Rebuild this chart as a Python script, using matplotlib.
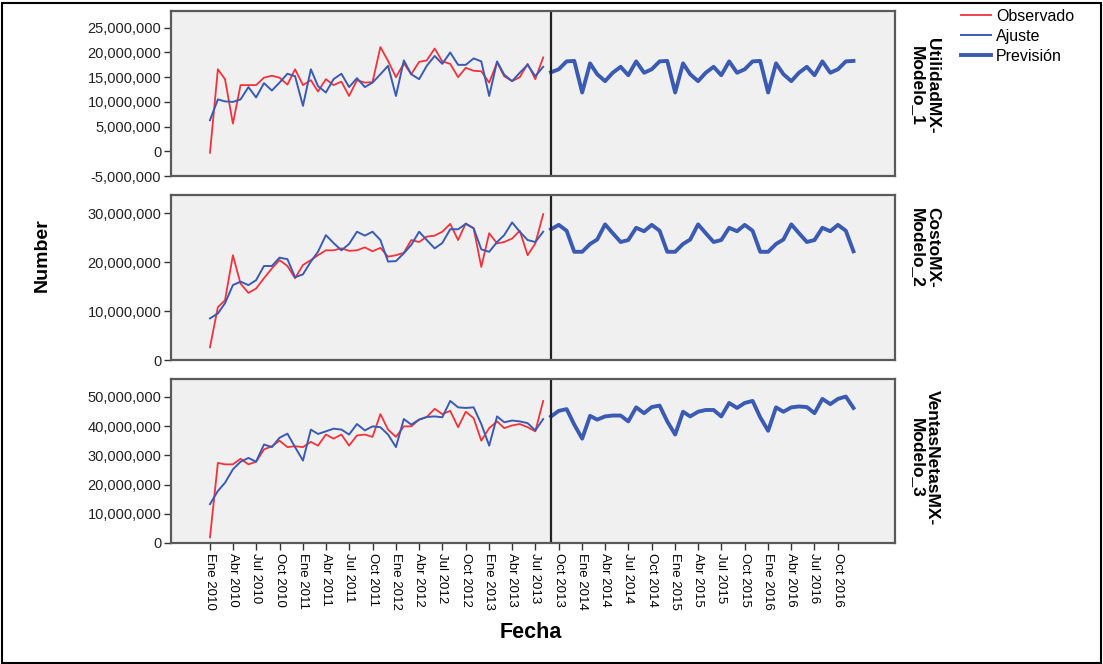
import numpy as np
import pandas as pd
import matplotlib
matplotlib.use("Agg")
import matplotlib.pyplot as plt
import matplotlib.dates as mdates
from matplotlib.ticker import FuncFormatter, FixedLocator
from matplotlib.lines import Line2D
from matplotlib.patches import Rectangle

plt.rcParams['font.family'] = ['Liberation Sans', 'DejaVu Sans']

# fechas (mensual)
fechas_obs = pd.date_range('2010-01-01', periods=44, freq='MS')   # Ene 2010 - Ago 2013
fechas_prev = pd.date_range('2013-09-01', periods=40, freq='MS')  # Sep 2013 - Dic 2016
inicio_prev = pd.Timestamp('2013-09-01')
fechas_ticks = pd.date_range('2010-01-01', '2016-10-01', freq='3MS')
meses_es = {1: 'Ene', 4: 'Abr', 7: 'Jul', 10: 'Oct'}

modelos = ['UtilidadMX-\nModelo_1', 'CostoMX-\nModelo_2', 'VentasNetasMX-\nModelo_3']

# valores en millones
utilidad_obs = [-0.3, 16.6, 14.6, 5.6, 13.4, 13.4, 13.4, 14.9, 15.3, 14.9, 13.5, 16.6, 13.4, 14.4, 12.1,
                14.6, 13.4, 14.1, 11.2, 14.4, 13.9, 14.0, 21.1, 18.3, 15.0, 17.8, 15.6, 18.1, 18.4, 20.8,
                18.2, 17.7, 15.0, 16.9, 16.3, 16.2, 13.9, 18.0, 15.2, 14.2, 15.0, 17.7, 14.6, 19.0]
utilidad_aju = [6.3, 10.5, 10.1, 10.0, 10.5, 13.0, 10.9, 13.8, 12.3, 13.9, 15.7, 15.2, 9.2, 16.6, 13.2,
                11.9, 14.6, 15.7, 13.0, 14.8, 13.0, 13.9, 15.6, 17.3, 11.2, 18.4, 15.6, 14.6, 17.3, 19.3,
                17.7, 20.0, 17.5, 17.5, 18.8, 18.2, 11.2, 18.2, 15.5, 14.2, 15.9, 17.5, 15.2, 17.1]
utilidad_prev = [16.0, 16.6, 18.2, 18.3,
                 11.9, 17.8, 15.6, 14.2, 15.9, 17.1, 15.4, 18.2, 15.9, 16.6, 18.2, 18.3,
                 11.9, 17.8, 15.6, 14.2, 15.9, 17.1, 15.4, 18.2, 15.9, 16.6, 18.2, 18.3,
                 11.9, 17.8, 15.6, 14.2, 15.9, 17.1, 15.4, 18.2, 15.9, 16.6, 18.2, 18.3]

costo_obs = [2.6, 10.8, 12.2, 21.4, 15.6, 13.7, 14.6, 16.7, 18.7, 20.4, 19.2, 16.7, 19.4, 20.4, 21.4,
             22.4, 22.4, 22.8, 22.3, 22.4, 23.0, 22.2, 22.9, 21.1, 21.4, 21.9, 24.5, 24.1, 25.2, 25.4,
             26.2, 27.8, 24.5, 27.9, 26.9, 19.0, 25.9, 23.8, 24.1, 24.8, 26.4, 21.4, 23.8, 29.8]
costo_aju = [8.5, 9.5, 11.6, 15.3, 16.0, 15.3, 16.3, 19.2, 19.2, 20.9, 20.6, 16.9, 17.5, 20.1, 22.1,
             25.5, 23.9, 22.4, 23.7, 26.2, 25.4, 26.2, 24.5, 20.1, 20.2, 21.8, 23.5, 26.2, 24.5, 22.8,
             23.9, 26.7, 26.7, 27.8, 26.9, 22.6, 22.1, 24.1, 25.5, 28.1, 26.2, 24.5, 24.1, 26.2]
costo_prev = [26.7, 27.6, 26.4, 22.1,
              22.1, 23.7, 24.6, 27.7, 25.9, 24.1, 24.5, 27.0, 26.3, 27.6, 26.4, 22.1,
              22.1, 23.7, 24.6, 27.7, 25.9, 24.1, 24.5, 27.0, 26.3, 27.6, 26.4, 22.1,
              22.1, 23.7, 24.6, 27.7, 25.9, 24.1, 24.5, 27.0, 26.3, 27.6, 26.4, 22.2]

ventas_obs = [1.9, 27.4, 26.9, 26.9, 28.8, 26.9, 27.8, 32.0, 33.1, 35.0, 32.8, 33.1, 32.8, 34.6, 33.3,
              37.1, 35.7, 37.1, 33.3, 36.8, 37.1, 36.3, 44.1, 38.8, 36.3, 39.9, 39.9, 42.2, 43.1, 45.9,
              44.1, 45.2, 39.6, 44.9, 42.7, 35.0, 39.3, 41.6, 39.3, 40.2, 40.7, 39.6, 38.2, 48.6]
ventas_aju = [13.3, 17.8, 20.6, 25.2, 27.8, 29.1, 27.8, 33.7, 32.8, 36.0, 37.4, 32.8, 28.2, 38.8, 37.3,
              38.2, 39.1, 38.8, 37.1, 40.7, 38.5, 39.9, 39.6, 37.1, 32.8, 42.4, 40.5, 42.2, 43.1, 43.3,
              43.0, 48.6, 46.4, 46.2, 46.4, 40.7, 33.3, 43.3, 41.3, 41.9, 41.6, 41.0, 38.5, 42.4]
ventas_prev = [43.3, 45.2, 45.8, 40.5,
               35.7, 43.5, 42.2, 43.3, 43.6, 43.6, 41.6, 46.4, 44.4, 46.5, 47.0, 41.6,
               37.1, 44.9, 43.3, 44.9, 45.5, 45.5, 43.3, 47.9, 46.2, 47.9, 48.6, 43.0,
               38.4, 46.4, 44.9, 46.4, 46.7, 46.5, 44.4, 49.3, 47.5, 49.3, 50.1, 46.2]

series = [(utilidad_obs, utilidad_aju, utilidad_prev),
          (costo_obs, costo_aju, costo_prev),
          (ventas_obs, ventas_aju, ventas_prev)]
yticks = [[-5e6, 0, 5e6, 10e6, 15e6, 20e6, 25e6],
          [0, 10e6, 20e6, 30e6],
          [0, 10e6, 20e6, 30e6, 40e6, 50e6]]
ylims = [(-5e6, 28.4e6), (0, 33.7e6), (0, 56.1e6)]

rojo = '#f2333c'
azul = '#3b5bb3'

W, H = 1103, 664
fig = plt.figure(figsize=(W / 100, H / 100), dpi=100)

paneles = [(11, 176), (195, 360), (379, 543)]
etiq_y = [38, 207, 390]
x0, x1 = 171, 895

for i, (top, bot) in enumerate(paneles):
    ax = fig.add_axes([x0 / W, 1 - bot / H, (x1 - x0) / W, (bot - top) / H])
    ax.set_facecolor('#f0f0f0')
    obs, aju, prev = series[i]
    ax.plot(fechas_obs, np.array(obs) * 1e6, color=rojo, lw=1.3)
    ax.plot(fechas_obs, np.array(aju) * 1e6, color=azul, lw=1.4)
    ax.plot(fechas_prev, np.array(prev) * 1e6, color=azul, lw=2.8)
    ax.axvline(inicio_prev, color='#222222', lw=1.6)

    ax.set_ylim(*ylims[i])
    ax.yaxis.set_major_locator(FixedLocator(yticks[i]))
    ax.yaxis.set_major_formatter(FuncFormatter(lambda v, p: f'{v:,.0f}'))
    ax.set_xlim(pd.Timestamp('2009-08-01'), pd.Timestamp('2017-05-13'))
    ax.xaxis.set_major_locator(FixedLocator(mdates.date2num(fechas_ticks)))
    ax.xaxis.set_major_formatter(FuncFormatter(
        lambda v, p: f"{meses_es[mdates.num2date(v).month]} {mdates.num2date(v).year}"))
    ax.tick_params(axis='y', labelsize=10.5, length=5, width=1, color='#333333', pad=2,
                   labelcolor='#222222')
    ax.tick_params(axis='x', labelsize=9.5, length=5, width=1, color='#333333', pad=2,
                   labelrotation=-90)
    for lab in ax.get_xticklabels():
        lab.set_verticalalignment('top')
    if i < 2:
        ax.tick_params(axis='x', bottom=False, labelbottom=False)
    for s in ax.spines.values():
        s.set_color('#5a5a5a')
        s.set_linewidth(1.6)

    fig.text(925 / W, 1 - etiq_y[i] / H, modelos[i], rotation=-90, ha='center', va='top',
             fontsize=12.5, fontweight='bold', multialignment='center', linespacing=1.0)

fig.text(42 / W, 1 - 255 / H, 'Number', rotation=90, ha='center', va='center',
         fontsize=14, fontweight='bold')
fig.text(531 / W, 1 - 632 / H, 'Fecha', ha='center', va='center',
         fontsize=15.5, fontweight='bold')

handles = [Line2D([], [], color=rojo, lw=1.3, label='Observado'),
           Line2D([], [], color=azul, lw=1.4, label='Ajuste'),
           Line2D([], [], color=azul, lw=2.8, label='Previsión')]
fig.legend(handles=handles, loc='upper left', bbox_to_anchor=(961 / W, 1 - 9 / H),
           frameon=False, fontsize=11.5, handlelength=1.9, labelspacing=0.3,
           handletextpad=0.3, borderpad=0, borderaxespad=0)

fig.add_artist(Rectangle((1.5 / W, 1.5 / H), 1 - 4 / W, 1 - 4 / H, transform=fig.transFigure,
                         fill=False, ec='black', lw=1.5))

fig.savefig('out.png', dpi=100)
